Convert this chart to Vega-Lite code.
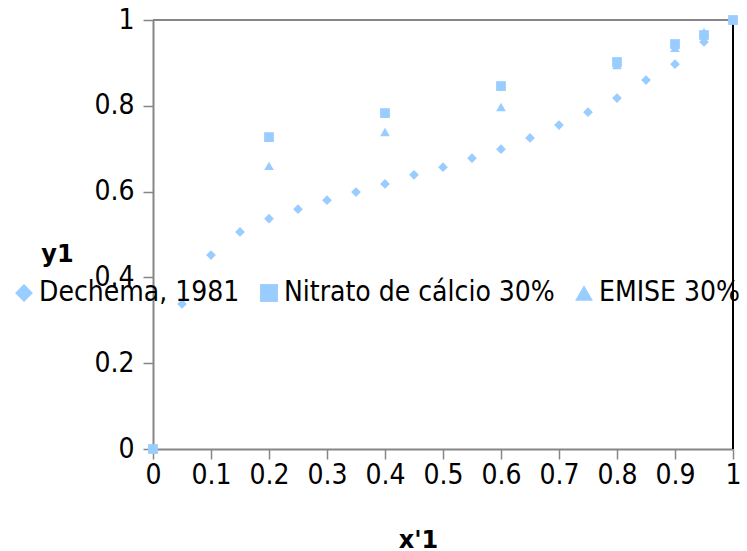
{
  "$schema": "https://vega.github.io/schema/vega-lite/v6.json",
  "width": 580,
  "height": 429,
  "autosize": {"type": "none"},
  "padding": {"left": 153, "top": 20, "right": 14, "bottom": 102},
  "background": "white",
  "config": {
    "view": {"stroke": null},
    "font": "DejaVu Sans",
    "axis": {
      "grid": false,
      "domainColor": "#868686",
      "domainWidth": 2,
      "tickColor": "#868686",
      "tickWidth": 1.5,
      "tickSize": 10,
      "labelFont": "DejaVu Sans Condensed",
      "labelFontSize": 28,
      "labelColor": "#000000",
      "titleFont": "DejaVu Sans",
      "titleFontSize": 24,
      "titleFontWeight": "bold",
      "titleColor": "#000000"
    }
  },
  "data": {
    "values": [
      {"series": "Dechema, 1981", "x": 0, "y": 0},
      {"series": "Dechema, 1981", "x": 0.05, "y": 0.338},
      {"series": "Dechema, 1981", "x": 0.1, "y": 0.452},
      {"series": "Dechema, 1981", "x": 0.15, "y": 0.506},
      {"series": "Dechema, 1981", "x": 0.2, "y": 0.537},
      {"series": "Dechema, 1981", "x": 0.25, "y": 0.559},
      {"series": "Dechema, 1981", "x": 0.3, "y": 0.58},
      {"series": "Dechema, 1981", "x": 0.35, "y": 0.599},
      {"series": "Dechema, 1981", "x": 0.4, "y": 0.618},
      {"series": "Dechema, 1981", "x": 0.45, "y": 0.639},
      {"series": "Dechema, 1981", "x": 0.5, "y": 0.657},
      {"series": "Dechema, 1981", "x": 0.55, "y": 0.678},
      {"series": "Dechema, 1981", "x": 0.6, "y": 0.699},
      {"series": "Dechema, 1981", "x": 0.65, "y": 0.725},
      {"series": "Dechema, 1981", "x": 0.7, "y": 0.755},
      {"series": "Dechema, 1981", "x": 0.75, "y": 0.785},
      {"series": "Dechema, 1981", "x": 0.8, "y": 0.818},
      {"series": "Dechema, 1981", "x": 0.85, "y": 0.86},
      {"series": "Dechema, 1981", "x": 0.9, "y": 0.897},
      {"series": "Dechema, 1981", "x": 0.95, "y": 0.949},
      {"series": "Dechema, 1981", "x": 1, "y": 1},
      {"series": "Nitrato de cálcio 30%", "x": 0, "y": 0},
      {"series": "Nitrato de cálcio 30%", "x": 0.2, "y": 0.727},
      {"series": "Nitrato de cálcio 30%", "x": 0.4, "y": 0.783},
      {"series": "Nitrato de cálcio 30%", "x": 0.6, "y": 0.846},
      {"series": "Nitrato de cálcio 30%", "x": 0.8, "y": 0.902},
      {"series": "Nitrato de cálcio 30%", "x": 0.9, "y": 0.944},
      {"series": "Nitrato de cálcio 30%", "x": 0.95, "y": 0.965},
      {"series": "Nitrato de cálcio 30%", "x": 1, "y": 1},
      {"series": "EMISE 30%", "x": 0, "y": 0},
      {"series": "EMISE 30%", "x": 0.2, "y": 0.66},
      {"series": "EMISE 30%", "x": 0.4, "y": 0.739},
      {"series": "EMISE 30%", "x": 0.6, "y": 0.797},
      {"series": "EMISE 30%", "x": 0.8, "y": 0.895},
      {"series": "EMISE 30%", "x": 0.9, "y": 0.935},
      {"series": "EMISE 30%", "x": 0.95, "y": 0.972},
      {"series": "EMISE 30%", "x": 1, "y": 1}
    ]
  },
  "layer": [
    {
      "mark": {"type": "rule", "color": "#868686", "strokeWidth": 2},
      "encoding": {"y": {"datum": 1, "type": "quantitative", "scale": {"domain": [0, 1]}}}
    },
    {
      "mark": {"type": "rule", "color": "#000000", "strokeWidth": 1},
      "encoding": {"x": {"datum": 1, "type": "quantitative", "scale": {"domain": [0, 1]}}}
    },
    {
      "mark": {"type": "point", "filled": true, "color": "#99ccff", "opacity": 1, "size": 95, "clip": false},
      "encoding": {
        "x": {
          "field": "x",
          "type": "quantitative",
          "scale": {"domain": [0, 1], "nice": false},
          "axis": {
            "title": "x'1",
            "values": [0, 0.1, 0.2, 0.3, 0.4, 0.5, 0.6, 0.7, 0.8, 0.9, 1],
            "format": "~g",
            "labelPadding": 2,
            "titleX": 265,
            "titleY": 98,
            "titleBaseline": "alphabetic",
            "titleAlign": "center",
            "labelFlush": false,
            "labelOverlap": false
          }
        },
        "y": {
          "field": "y",
          "type": "quantitative",
          "scale": {"domain": [0, 1], "nice": false},
          "axis": {
            "title": "y1",
            "values": [0, 0.2, 0.4, 0.6, 0.8, 1],
            "format": "~g",
            "labelPadding": 9,
            "titleAngle": 0,
            "titleX": -96,
            "titleY": 241,
            "titleAlign": "center",
            "titleBaseline": "alphabetic",
            "labelFlush": false,
            "labelOverlap": false
          }
        },
        "shape": {
          "field": "series",
          "type": "nominal",
          "scale": {
            "domain": ["Dechema, 1981", "Nitrato de cálcio 30%", "EMISE 30%"],
            "range": ["diamond", "square", "triangle-up"]
          },
          "legend": {
            "title": null,
            "orient": "none",
            "direction": "horizontal",
            "legendX": -143,
            "legendY": 259,
            "padding": 0,
            "columnPadding": 15,
            "labelOffset": 1,
            "labelFont": "DejaVu Sans Condensed",
            "labelFontSize": 28,
            "labelColor": "#000000",
            "labelLimit": 400,
            "symbolSize": 320,
            "symbolFillColor": "#99ccff",
            "symbolStrokeColor": "#99ccff",
            "symbolStrokeWidth": 0,
            "symbolOpacity": 1
          }
        }
      }
    }
  ]
}
